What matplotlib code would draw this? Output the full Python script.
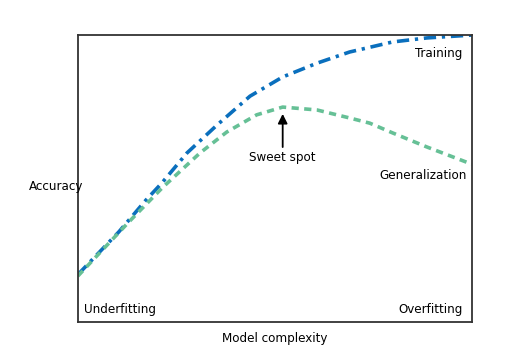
import matplotlib
matplotlib.use("Agg")
import matplotlib.pyplot as plt

# Curves (x = model complexity, y = accuracy, both 0..1)
train_x = [0.0, 0.104, 0.173, 0.213, 0.277, 0.353, 0.437, 0.520, 0.607,
           0.690, 0.799, 0.886, 1.0]
train_y = [0.165, 0.314, 0.425, 0.484, 0.589, 0.686, 0.787, 0.854, 0.902,
           0.941, 0.976, 0.990, 1.0]

gen_x = [0.0, 0.129, 0.216, 0.310, 0.378, 0.454, 0.520, 0.607, 0.690,
         0.741, 0.799, 0.886, 1.0]
gen_y = [0.160, 0.348, 0.470, 0.589, 0.662, 0.722, 0.749, 0.739, 0.711,
         0.693, 0.659, 0.610, 0.550]

sweet_x = 0.52
sweet_y = 0.735

plt.rcParams['font.family'] = ['DejaVu Sans']
plt.rcParams['font.stretch'] = 'condensed'

fig = plt.figure(figsize=(5.19, 3.6), dpi=100)
ax = fig.add_axes([0.150, 0.1056, 0.759, 0.797])

ax.plot(train_x, train_y, color='#0a6fbd', lw=2.6,
        linestyle=(0, (3.4, 1.6, 0.9, 1.6)))
ax.plot(gen_x, gen_y, color='#66c096', lw=2.6,
        linestyle=(0, (2.0, 1.5)))

ax.annotate('', xy=(sweet_x, sweet_y), xytext=(sweet_x, 0.6),
            arrowprops=dict(arrowstyle='-|>', color='black', lw=1.3,
                            mutation_scale=14))
ax.text(sweet_x, 0.575, 'Sweet spot', ha='center', va='center', fontsize=9.5)

ax.text(0.975, 0.937, 'Training', ha='right', va='center', fontsize=9.5,
        transform=ax.transAxes)
ax.text(0.987, 0.512, 'Generalization', ha='right', va='center', fontsize=9.5,
        transform=ax.transAxes)
ax.text(0.015, 0.042, 'Underfitting', ha='left', va='center', fontsize=9.5,
        transform=ax.transAxes)
ax.text(0.977, 0.045, 'Overfitting', ha='right', va='center', fontsize=9.5,
        transform=ax.transAxes)

fig.text(0.108, 0.481, 'Accuracy', ha='center', va='center', fontsize=9.5)
fig.text(0.530, 0.061, 'Model complexity', ha='center', va='center', fontsize=9.5)

ax.set_xlim(0, 1)
ax.set_ylim(0, 1)
ax.set_xticks([])
ax.set_yticks([])
for s in ax.spines.values():
    s.set_color('#333333')
    s.set_linewidth(1.3)

fig.savefig('out.png', dpi=100)
